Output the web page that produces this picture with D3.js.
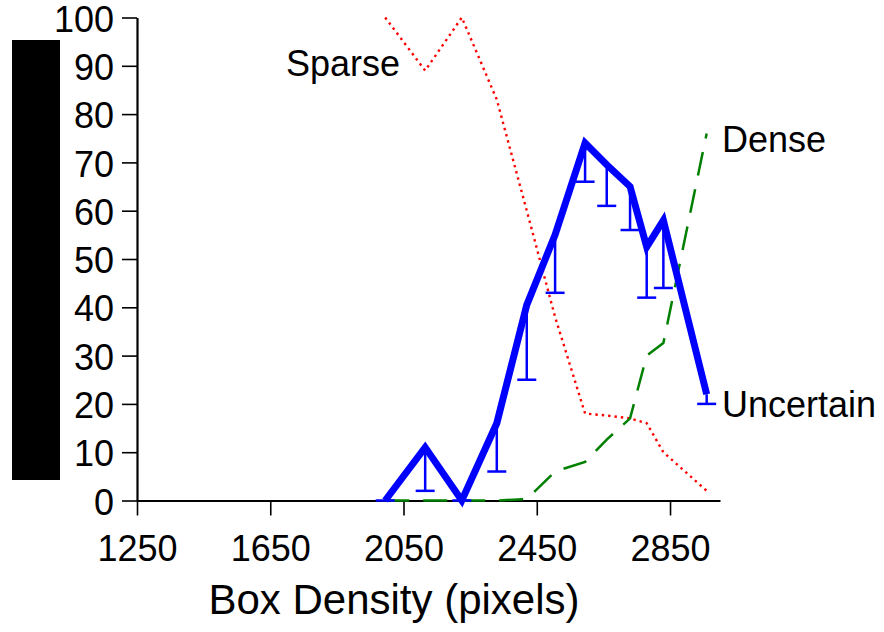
<!DOCTYPE html>
<html><head><meta charset="utf-8">
<script src="https://cdn.jsdelivr.net/npm/d3@7"></script>
<style>
html,body{margin:0;padding:0;background:#fff;}
svg{display:block;font-family:"Liberation Sans",Arial,Helvetica,sans-serif;}
</style></head>
<body>
<svg id="chart" width="884" height="632"></svg>
<script>
// Data
const densities   = [1995, 2115, 2225, 2330, 2420, 2505, 2595, 2660, 2730, 2780, 2830, 2960];
const uncertain   = [0, 11, 0, 16, 40.5, 55, 74, 69.5, 65, 52.5, 58, 22];
const uncertainLo = [0, 2, 0, 6, 25, 43, 66, 61, 56, 42, 44, 20];
const sparse      = [100, 89, 100, 83, 60, 38, 18, 17.6, 17, 16, 10, 2];
const dense       = [0, 0, 0, 0, 0.3, 6, 8, 12.6, 17, 30, 32.6, 76];
const xTicks = [1250, 1650, 2050, 2450, 2850];
const yTicks = [0, 10, 20, 30, 40, 50, 60, 70, 80, 90, 100];
const seriesLabels = ["Sparse", "Dense", "Uncertain"];
const xTitle = "Box Density (pixels)";

const svg = d3.select("#chart");
const x = d3.scaleLinear().domain([1250, 3000]).range([137, 720]);
const y = d3.scaleLinear().domain([0, 100]).range([500.5, 17.5]);

// black block on the left
svg.append("rect").attr("x", 12).attr("y", 40).attr("width", 48).attr("height", 440).attr("fill", "#000");

// axes
const xAxis = svg.append("g").attr("transform", `translate(0,${y(0)})`)
  .call(d3.axisBottom(x).tickValues(xTicks).tickFormat(d3.format("d")).tickSizeInner(15).tickSizeOuter(0).tickPadding(20));
const yAxis = svg.append("g").attr("transform", `translate(${x(1250)},0)`)
  .call(d3.axisLeft(y).tickValues(yTicks).tickFormat(d3.format("d")).tickSizeInner(15).tickSizeOuter(0).tickPadding(8));
[xAxis, yAxis].forEach(g => {
  g.selectAll("path.domain").attr("stroke", "#000").attr("stroke-width", 2.2);
  g.selectAll(".tick line").attr("stroke", "#000").attr("stroke-width", 1.6);
  g.selectAll(".tick text").attr("fill", "#000").attr("font-size", 36).attr("font-family", '"Liberation Sans",Arial,sans-serif');
});
yAxis.selectAll(".tick text").attr("dy", "0.38em");

const pts = (arr) => arr.map((v, i) => [densities[i], v]);
const line = d3.line().x(d => x(d[0])).y(d => y(d[1]));

// Sparse - red dotted
svg.append("path").attr("d", line(pts(sparse))).attr("fill", "none")
  .attr("stroke", "#ff0000").attr("stroke-width", 2.4).attr("stroke-dasharray", "2.4,4");
// Dense - green dashed
svg.append("path").attr("d", line(pts(dense))).attr("fill", "none")
  .attr("stroke", "#008000").attr("stroke-width", 2.5).attr("stroke-dasharray", "24,14");

// Uncertain error bars (lower only)
const eb = svg.append("g").attr("stroke", "#0000ff").attr("stroke-width", 2.5);
densities.forEach((d, i) => {
  eb.append("line").attr("x1", x(d)).attr("x2", x(d)).attr("y1", y(uncertain[i])).attr("y2", y(uncertainLo[i]));
  eb.append("line").attr("x1", x(d) - 9.5).attr("x2", x(d) + 9.5).attr("y1", y(uncertainLo[i])).attr("y2", y(uncertainLo[i]));
});
// Uncertain - thick blue
svg.append("path").attr("d", line(pts(uncertain))).attr("fill", "none")
  .attr("stroke", "#0000ff").attr("stroke-width", 7).attr("stroke-linejoin", "miter");

// series labels
const lab = svg.append("g").attr("font-size", 36).attr("fill", "#000");
lab.append("text").attr("x", 400).attr("y", 76).attr("text-anchor", "end").text(seriesLabels[0]);
lab.append("text").attr("x", 722).attr("y", 152).text(seriesLabels[1]);
lab.append("text").attr("x", 722).attr("y", 417).text(seriesLabels[2]);

// x title
svg.append("text").attr("x", 394).attr("y", 614).attr("text-anchor", "middle")
  .attr("font-size", 42).attr("fill", "#000").text(xTitle);
</script>
</body></html>
